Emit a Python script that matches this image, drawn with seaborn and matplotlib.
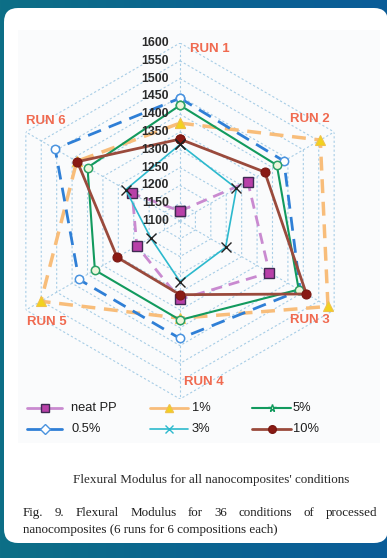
import numpy as np
import matplotlib
matplotlib.use("Agg")
import matplotlib.pyplot as plt
import seaborn as sns
from matplotlib.patches import FancyBboxPatch, Rectangle
from matplotlib.lines import Line2D
from matplotlib.colors import LinearSegmentedColormap

# ---- data: flexural modulus (MPa) per run and composition ----
runs = ["RUN 1", "RUN 2", "RUN 3", "RUN 4", "RUN 5", "RUN 6"]
compositions = ["neat PP", "0.5%", "1%", "3%", "5%", "10%"]
neat_pp = [1128, 1320, 1390, 1320, 1240, 1255]
pct_0_5 = [1445, 1437, 1490, 1430, 1428, 1505]
pct_1 = [1375, 1555, 1580, 1373, 1551, 1435]
pct_3 = [1315, 1283, 1248, 1270, 1195, 1276]
pct_5 = [1425, 1414, 1485, 1378, 1376, 1400]
pct_10 = [1330, 1375, 1510, 1307, 1304, 1433]
radial_ticks = list(range(1100, 1601, 50))
r_min, r_max = 1100, 1600

series = {
    "neat PP": neat_pp, "0.5%": pct_0_5, "1%": pct_1,
    "3%": pct_3, "5%": pct_5, "10%": pct_10,
}

styles = {
    "neat PP": dict(color="#c98ad0", lw=2.0, ls=(0, (4, 2.5)), marker="s", ms=6.5,
                    mfc="#b840a8", mec="#3f2b52", mew=1.0, z=4),
    "0.5%": dict(color="#2f7fd6", lw=2.0, ls=(0, (5, 3)), marker="o", ms=6,
                 mfc="white", mec="#4a93df", mew=1.1, z=5),
    "1%": dict(color="#f8bd7a", lw=2.5, ls=(0, (4, 2.5)), marker="^", ms=7,
               mfc="#f2d21e", mec="#f0c24a", mew=0.8, z=3),
    "3%": dict(color="#2cb9cd", lw=1.2, ls="-", marker="x", ms=6.5,
               mfc="#222222", mec="#222222", mew=1.0, z=6),
    "5%": dict(color="#129a5e", lw=1.5, ls="-", marker="o", ms=6,
               mfc="#eef6dc", mec="#2aa064", mew=1.1, z=5),
    "10%": dict(color="#9a4a3c", lw=2.0, ls="-", marker="o", ms=6.5,
                mfc="#8a1a14", mec="#7a1812", mew=0.8, z=5),
}
legend_markers = {"neat PP": "s", "0.5%": "D", "1%": "^", "3%": "x", "5%": "*", "10%": "o"}
legend_mfc = {"3%": "#2cb9cd"}

sns.set_theme(style="white")
plt.rcParams["font.family"] = ["Liberation Sans", "DejaVu Sans"]

W, H = 387, 558
fig = plt.figure(figsize=(W / 100, H / 100), dpi=100)

# ---- page background: teal frame with a rounded white panel ----
bg = fig.add_axes([0, 0, 1, 1])
teal = LinearSegmentedColormap.from_list("teal", ["#0d6f86", "#0a6490", "#0a5c98"])
bg.imshow(np.linspace(0, 1, 256)[None, :], cmap=teal, extent=[0, W, H, 0],
          aspect="auto", zorder=0)
bg.add_patch(FancyBboxPatch((4, 8), 384, 535, boxstyle="round,pad=0,rounding_size=14",
                            fc="white", ec="none", zorder=1))
bg.add_patch(Rectangle((18, 30), 362, 413, fc="#fafbfc", ec="none", zorder=2))
bg.set_xlim(0, W)
bg.set_ylim(H, 0)
bg.axis("off")

# ---- radar axes ----
cx, cy, R = 180, 221, 178
ax = fig.add_axes([(cx - R) / W, (H - cy - R) / H, 2 * R / W, 2 * R / H], projection="polar")
ax.set_facecolor("none")
ax.set_theta_zero_location("N")
ax.set_theta_direction(-1)

theta = np.linspace(0, 2 * np.pi, len(runs) + 1)

grid_c = "#a7cde6"
for v in radial_ticks[1:]:
    ax.plot(theta, [v] * len(theta), color=grid_c, lw=0.8, ls=(0, (2, 2)), zorder=1)
for t in theta[:-1]:
    ax.plot([t, t], [r_min, r_max], color=grid_c, lw=0.8, ls=(0, (2, 2)), zorder=1)

for name in compositions:
    vals = series[name]
    s = styles[name]
    sns.lineplot(x=theta, y=vals + vals[:1], ax=ax, sort=False, estimator=None,
                 color=s["color"], lw=s["lw"], linestyle=s["ls"], marker=s["marker"],
                 markersize=s["ms"], markerfacecolor=s["mfc"], markeredgecolor=s["mec"],
                 markeredgewidth=s["mew"], zorder=s["z"], clip_on=False)

ax.set_ylim(r_min, r_max)
ax.set_xticks([])
ax.set_yticks([])
ax.grid(False)
ax.spines["polar"].set_visible(False)
ax.set_xlabel("")
ax.set_ylabel("")

for v in radial_ticks:
    ax.annotate(f"{v}", xy=(0, v), xytext=(-8, 0), textcoords="offset points",
                ha="right", va="center", fontsize=8.8, fontweight="bold",
                color="#2a2a2a", zorder=8, annotation_clip=False)

run_offsets = [(21.6, -4.3), (-17.3, 9.4), (-17.3, -7.2), (17.3, 12.2), (15.1, -8.6), (14.4, 7.9)]
for t, lab, off in zip(theta[:-1], runs, run_offsets):
    ax.annotate(lab, xy=(t, r_max), xytext=off, textcoords="offset points",
                ha="center", va="center", fontsize=9.5, fontweight="bold",
                color="#f06a50", zorder=8, annotation_clip=False)

# ---- legend (two rows, three columns) ----
legend_layout = [
    ("neat PP", 27, 62, 71, 408), ("1%", 150, 188, 192, 408), ("5%", 252, 291, 293, 408),
    ("0.5%", 27, 62, 71, 429), ("3%", 150, 188, 192, 429), ("10%", 252, 291, 293, 429),
]
for name, x0, x1, xt, y in legend_layout:
    s = styles[name]
    bg.add_line(Line2D([x0, x1], [y, y], color=s["color"], lw=min(s["lw"], 2.0),
                       ls="-", zorder=5))
    bg.add_line(Line2D([(x0 + x1) / 2], [y], marker=legend_markers[name], ms=5.5,
                       mfc=legend_mfc.get(name, s["mfc"]),
                       mec=s["color"] if name in ("3%", "5%") else s["mec"],
                       mew=1.0, ls="none", zorder=6))
    bg.text(xt, y, name, ha="left", va="center", fontsize=9.3, color="#1e1e1e", zorder=6)

# ---- captions ----
renderer = fig.canvas.get_renderer()


def fit_width(txt, target):
    w = txt.get_window_extent(renderer).width
    txt.set_fontsize(txt.get_fontsize() * target / w)


serif = ["Liberation Serif", "DejaVu Serif"]
sub = bg.text(211, 480, "Flexural Modulus for all nanocomposites' conditions",
              ha="center", va="center", fontsize=9, family=serif, color="#2a2a2a", zorder=6)
fit_width(sub, 278)

line2 = bg.text(23, 530, "nanocomposites (6 runs for 6 compositions each)",
                ha="left", va="center", fontsize=9, family=serif, color="#1e1e1e", zorder=6)
fit_width(line2, 255)
fs = line2.get_fontsize()

words = "Fig. 9. Flexural Modulus for 36 conditions of processed".split()
word_txts = [bg.text(0, 513, w, ha="left", va="center", fontsize=fs, family=serif,
                     color="#1e1e1e", zorder=6) for w in words]
widths = [t.get_window_extent(renderer).width for t in word_txts]
gap = (377 - 23 - sum(widths)) / (len(words) - 1)
x = 23
for t, w in zip(word_txts, widths):
    t.set_x(x)
    x += w + gap

fig.savefig("out.png", dpi=100)
